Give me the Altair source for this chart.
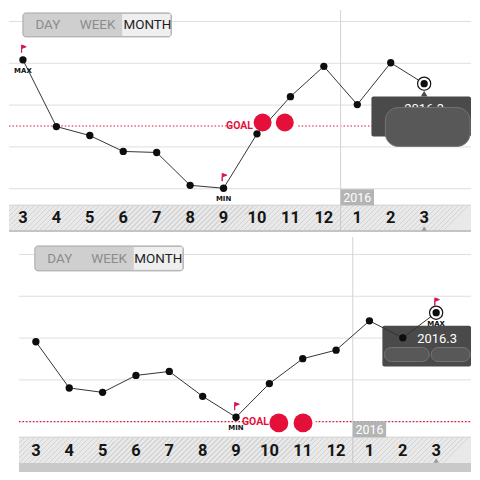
import altair as alt
import pandas as pd

# ---- data ----
months = ["3", "4", "5", "6", "7", "8", "9", "10", "11", "12", "1", "2", "3"]
top_values = [81.4, 49.5, 45.2, 37.6, 37.1, 21.4, 20.0, 46.0, 63.8, 78.3, 60.0, 80.0, 70.0]
bottom_values = [58.0, 35.9, 33.8, 41.9, 43.8, 31.9, 21.9, 38.0, 49.9, 54.0, 68.0, 59.9, 71.9]
top_goal = 50
bottom_goal = 20
grid_values = [20, 40, 60, 80, 100]
year_break = 9.5
year_label = "2016"
tooltip_label = "2016.3"
buttons = ["DAY", "WEEK", "MONTH"]

COND = "Roboto, Liberation Sans Narrow, DejaVu Sans Condensed, sans-serif"
RED = "#e4103a"
W = 464
ONE = pd.DataFrame({"a": [0]})


def hatch(w, h, period=5.0):
    # diagonal hatch fill for the axis band (style only)
    n = int(w / period) + 1
    stops = []
    for k in range(n):
        a = k * period / w
        b = (k * period + 1.2) / w
        c = (k + 1) * period / w
        stops += [alt.GradientStop(offset=min(a, 1), color="#d4d4d4"),
                  alt.GradientStop(offset=min(b, 1), color="#d4d4d4"),
                  alt.GradientStop(offset=min(b, 1), color="#e9e9e9"),
                  alt.GradientStop(offset=min(c, 1), color="#e9e9e9")]
    return alt.LinearGradient(gradient="linear", stops=stops, x1=0, y1=0, x2=1, y2=round(h / w, 4))


def panel(values, goal, xdom, ydom, h, d):
    df = pd.DataFrame({"i": list(range(len(months))), "month": months, "v": values})
    vmax, vmin = max(values), min(values)
    df["tag"] = ["MAX" if v == vmax else ("MIN" if v == vmin else "") for v in values]
    last = df.tail(1)
    tagged = df[df["tag"] != ""]

    xs = alt.Scale(domain=xdom, nice=False, zero=False)
    ys = alt.Scale(domain=ydom, nice=False, zero=False)

    def X(f):
        return alt.X(f + ":Q", scale=xs, axis=None)

    def Y(f):
        return alt.Y(f + ":Q", scale=ys, axis=None)

    bx_0, by_0, by_1 = d["band"]
    layers = []
    # gridlines
    layers.append(alt.Chart(pd.DataFrame({"g": grid_values})).mark_rule(color="#dedede", strokeWidth=1, yOffset=0.5).encode(
        y=Y("g"), x=alt.value(d["gx0"]), x2=alt.value(W)))
    # goal line
    layers.append(alt.Chart(pd.DataFrame({"gl": [goal]})).mark_rule(color=RED, strokeWidth=1.2, strokeDash=[1.5, 2], yOffset=0.5).encode(
        y=Y("gl"), x=alt.value(d["gx0"]), x2=alt.value(W)))
    # year divider
    yb = pd.DataFrame({"a": [year_break], "b": [year_break + 1], "c": [year_break + 0.5]})
    layers.append(alt.Chart(yb).mark_rule(color="#d2d2d2", strokeWidth=1).encode(
        x=X("a"), y=alt.value(0), y2=alt.value(by_1)))
    # axis band (hatched)
    layers.append(alt.Chart(ONE).mark_rect(fill=hatch(W - bx_0, by_1 - by_0)).encode(
        x=alt.value(bx_0), x2=alt.value(W), y=alt.value(by_0), y2=alt.value(by_1)))
    layers.append(alt.Chart(ONE).mark_rule(color="#d0d0d0").encode(
        x=alt.value(bx_0), x2=alt.value(W), y=alt.value(by_0)))
    layers.append(alt.Chart(ONE).mark_rect(color=d["strip_color"]).encode(
        x=alt.value(bx_0), x2=alt.value(W), y=alt.value(by_1), y2=alt.value(d["strip"])))
    # divider over band
    layers.append(alt.Chart(yb).mark_rule(color="#c8c8c8", strokeWidth=1).encode(
        x=X("a"), y=alt.value(by_0), y2=alt.value(by_1)))
    # year box
    layers.append(alt.Chart(yb).mark_rect(color="#b4b4b4").encode(
        x=X("a"), x2="b:Q", y=alt.value(d["yearbox"][0]), y2=alt.value(d["yearbox"][1])))
    layers.append(alt.Chart(yb).mark_text(color="white", fontSize=12.5, font=COND, baseline="middle").encode(
        x=X("c"), y=alt.value((d["yearbox"][0] + d["yearbox"][1]) / 2 + 0.5), text=alt.value(year_label)))
    # month labels
    layers.append(alt.Chart(df).mark_text(fontSize=16.5, fontWeight="bold", font=COND, color="#151515", baseline="middle").encode(
        x=X("i"), y=alt.value(d["label_y"]), text="month:N"))
    layers.append(alt.Chart(last).mark_point(shape="triangle-up", filled=True, color="#9a9a9a", size=28, opacity=1).encode(
        x=X("i"), y=alt.value(d["tri_y"])))
    # buttons
    bx0, bx1, by0, by1, mx0 = d["btn"]
    layers.append(alt.Chart(ONE).mark_rect(fill="#cfcfcf", stroke="#a5a5a5", strokeWidth=1, cornerRadius=3).encode(
        x=alt.value(bx0), x2=alt.value(bx1), y=alt.value(by0), y2=alt.value(by1)))
    layers.append(alt.Chart(ONE).mark_rect(fill="#efefef").encode(
        x=alt.value(mx0), x2=alt.value(bx1 - 1), y=alt.value(by0 + 1), y2=alt.value(by1 - 1)))
    for name, bxp in zip(buttons, d["btn_x"]):
        layers.append(alt.Chart(ONE).mark_text(fontSize=13.5, font=COND, baseline="middle",
                                               color="#1e1e1e" if name == "MONTH" else "#8c8c8c").encode(
            x=alt.value(bxp), y=alt.value((by0 + by1) / 2 + 0.5), text=alt.value(name)))
    # goal label background and text
    gx0, gx1, gy0, gy1 = d["goalbg"]
    layers.append(alt.Chart(ONE).mark_rect(color="white").encode(
        x=alt.value(gx0), x2=alt.value(gx1), y=alt.value(gy0), y2=alt.value(gy1)))
    layers.append(alt.Chart(ONE).mark_text(fontSize=10.5, fontWeight="bold", font=COND, color=RED, align="right", baseline="middle").encode(
        x=alt.value(d["goal_text"][0]), y=alt.value(d["goal_text"][1]), text=alt.value("GOAL")))
    # tooltip
    tx0, tx1, ty0, ty1 = d["tip"]
    layers.append(alt.Chart(ONE).mark_rect(color="#4a4a4a", cornerRadius=2).encode(
        x=alt.value(tx0), x2=alt.value(tx1), y=alt.value(ty0), y2=alt.value(ty1)))
    if d.get("pointer"):
        layers.append(alt.Chart(last).mark_point(shape="triangle-up", filled=True, color="#4a4a4a", size=45, opacity=1).encode(
            x=X("i"), y=alt.value(d["pointer"])))
    layers.append(alt.Chart(ONE).mark_text(fontSize=13, font=COND, color="white", baseline="middle").encode(
        x=alt.value(d["tip_text"][0]), y=alt.value(d["tip_text"][1]), text=alt.value(tooltip_label)))
    for (x0, x1, y0, y1, r) in d["blobs"]:
        layers.append(alt.Chart(ONE).mark_rect(fill="#585858", stroke="#747474", strokeWidth=1, cornerRadius=r).encode(
            x=alt.value(x0), x2=alt.value(x1), y=alt.value(y0), y2=alt.value(y1)))
    # data line and points
    layers.append(alt.Chart(df).mark_line(color="#333333", strokeWidth=1).encode(x=X("i"), y=Y("v")))
    layers.append(alt.Chart(last).mark_circle(fill="white", stroke="#111", strokeWidth=1.2, size=175, opacity=1).encode(
        x=X("i"), y=Y("v")))
    layers.append(alt.Chart(df).mark_circle(color="#0d0d0d", size=54, opacity=1).encode(x=X("i"), y=Y("v")))
    # flags and MAX/MIN labels
    flag = "M-0.35,1 L-0.35,-1 L0.85,-0.55 L-0.35,-0.1 Z"
    layers.append(alt.Chart(tagged).mark_point(shape=flag, fill="#d3174d", stroke="#d3174d", strokeWidth=1,
                                               size=60, opacity=1, yOffset=-11).encode(x=X("i"), y=Y("v")))
    layers.append(alt.Chart(tagged).mark_text(fontSize=7, fontWeight="bold", font="DejaVu Sans", color="#111",
                                              baseline="middle", dy=11).encode(x=X("i"), y=Y("v"), text="tag:N"))
    # red circles over goal
    for (cx, cy) in d["dots"]:
        layers.append(alt.Chart(ONE).mark_circle(color=RED, size=d["dot_size"], opacity=1).encode(
            x=alt.value(cx), y=alt.value(cy)))

    return alt.layer(*layers).properties(width=W, height=h)


top = panel(top_values, top_goal, [-0.4169, 13.401], [-3.333, 105.238], 228, {
    "gx0": 0, "band": (0, 196, 221), "strip": 223, "strip_color": "#c4c4c4",
    "yearbox": (180, 196), "label_y": 209, "tri_y": 219.5,
    "btn": (14, 163, 3, 27, 113.7), "btn_x": (39, 89, 139),
    "goalbg": (224, 289, 109, 123), "goal_text": (245, 116.5),
    "tip": (364, 464, 87, 127), "pointer": 84, "tip_text": (417, 99),
    "blobs": [(378, 463, 98, 137, 13)],
    "dots": [(254.7, 113), (277, 113)], "dot_size": 324,
})

bottom = panel(bottom_values, bottom_goal, [-0.806, 13.045], [-4.286, 108.095], 236, {
    "gx0": 10, "band": (10, 201, 227), "strip": 236, "strip_color": "#c9c9c9",
    "yearbox": (185, 201), "label_y": 215, "tri_y": 224.5,
    "btn": (26, 175, 9, 34, 125.3), "btn_x": (51, 100.5, 150),
    "goalbg": (240, 308, 179, 193), "goal_text": (261, 186),
    "tip": (375, 464, 89, 130), "pointer": None, "tip_text": (430, 102),
    "blobs": [(377, 422, 111, 125, 7), (424, 463, 111, 125, 7)],
    "dots": [(271, 186.7), (295.3, 186.7)], "dot_size": 361,
})

chart = alt.vconcat(top, bottom, spacing=0, bounds="flush").properties(
    padding=0, background="white"
).configure_view(stroke=None)

chart.save("out.html", embed_options={"renderer": "svg", "actions": False})
